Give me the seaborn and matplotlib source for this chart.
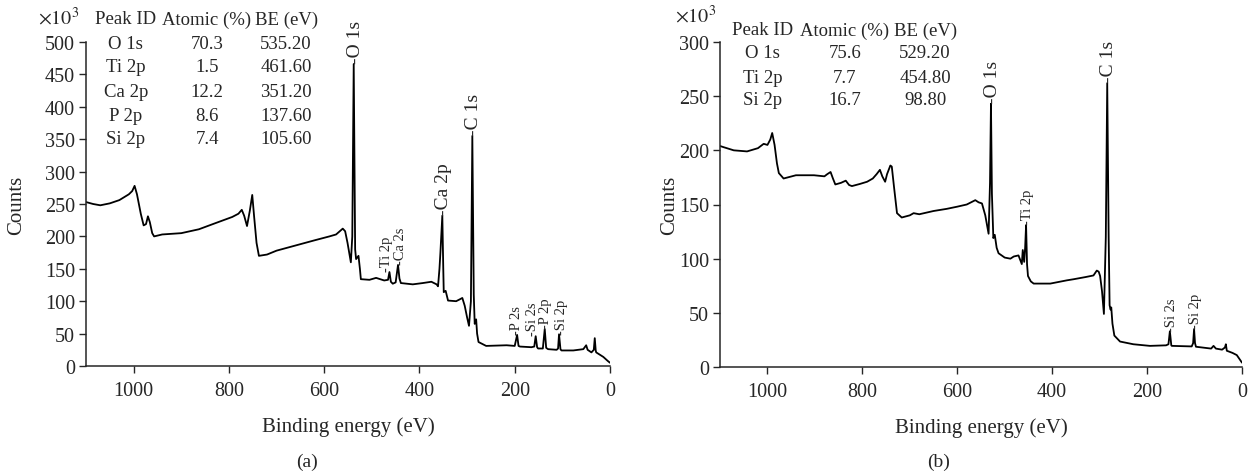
import matplotlib
matplotlib.use("Agg")
import matplotlib.pyplot as plt
import seaborn as sns

# --- survey spectrum (a): binding energy (eV) and counts (x10^3) ---
be_a = [1100, 1085, 1070, 1050, 1030, 1010, 1003, 998, 993, 985, 979, 974, 970, 966, 961, 957,
        940, 900, 863, 830, 793, 780, 773, 768, 762, 756, 751, 747, 742, 737, 720, 700, 660,
        620, 589, 575, 561, 556, 551, 544, 541, 538, 535, 533, 528, 525, 523, 505, 491, 474,
        466, 463, 460, 456, 450, 445, 442, 439, 414, 393, 375, 364, 361, 358, 356, 352, 350,
        349, 345, 340, 323, 315, 310, 305, 300, 296, 292, 289, 286, 284, 281, 279, 276, 260,
        217, 200, 195, 192, 189, 165, 159, 156, 153, 151, 141, 137, 134, 130, 112, 109, 107,
        104, 102, 77, 56, 50, 47, 39, 34, 32, 30, 29, 14, 5, 0]
cnt_a = [253, 250, 248, 251, 256, 265, 270, 278, 265, 235, 217, 219, 231, 222, 205, 200,
         203, 205, 211, 220, 230, 235, 241, 232, 216, 240, 264, 230, 190, 170, 172, 178, 186,
         194, 200, 203, 212, 208, 190, 160, 200, 466, 180, 165, 170, 150, 134, 133, 136, 132,
         133, 145, 130, 127, 129, 156, 135, 128, 126, 128, 130, 126, 123, 150, 175, 232, 150,
         114, 116, 101, 100, 103, 105, 93, 75, 62, 100, 355, 110, 65, 72, 50, 37, 31,
         32, 31, 48, 31, 30, 29, 30, 46, 29, 27, 27, 57, 28, 26, 25, 27, 49,
         26, 24, 24, 26, 32, 25, 21, 25, 43, 24, 21, 14, 8, 5]

# --- survey spectrum (b) ---
be_b = [1100, 1093, 1071, 1043, 1020, 1008, 1000, 994, 990, 985, 980, 976, 966, 940, 902,
        880, 874, 867, 862, 857, 845, 835, 828, 822, 805, 790, 778, 770, 763, 758, 752, 748,
        741, 738, 733, 727, 717, 700, 692, 680, 650, 622, 600, 580, 562, 555, 548, 541, 534,
        531, 529, 527, 524, 521, 517, 513, 500, 488, 481, 471, 464, 462, 459, 457, 455, 453,
        451, 445, 439, 404, 369, 355, 330, 313, 306, 302, 299, 295, 291, 287, 284, 281, 279,
        277, 275.5, 273, 269, 257, 229, 194, 160, 155, 152, 149, 148, 106, 103, 101, 99, 97,
        65, 60, 55, 42, 36, 34, 32, 20, 11, 0]
cnt_b = [204, 203, 200, 199, 202, 206, 205, 210, 216, 205, 188, 179, 174, 177, 177,
         176, 178, 180, 174, 168.5, 170, 172, 168, 167, 169, 171, 174, 178, 182, 176, 171, 178,
         186, 185, 165, 142, 138, 140, 142, 141, 144, 146, 148, 150, 154, 152, 151, 140, 123,
         170, 243, 160, 119, 122, 110, 105, 101, 100, 102, 103, 95, 108, 97, 110, 131, 95,
         84, 79, 77, 77, 80, 81, 83, 84.5, 89, 88, 84, 70, 49, 120, 262, 120, 57,
         53, 55, 40, 29, 23.5, 21, 19.5, 20, 21, 33, 20, 19.5, 19, 22, 35, 22, 18.7,
         17, 19.5, 17, 16, 18, 21, 15, 13, 11, 4]

# --- quantification tables ---
ids_a = ["O 1s", "Ti 2p", "Ca 2p", "P 2p", "Si 2p"]
atomic_a = ["70.3", "1.5", "12.2", "8.6", "7.4"]
bes_a = ["535.20", "461.60", "351.20", "137.60", "105.60"]

ids_b = ["O 1s", "Ti 2p", "Si 2p"]
atomic_b = ["75.6", "7.7", "16.7"]
bes_b = ["529.20", "454.80", "98.80"]

# --- peak labels: name, energy, counts at peak top, main peak? ---
peaks_a = [("O 1s", 538, 466, True), ("C 1s", 289, 355, True), ("Ca 2p", 352, 232, True),
           ("Ti 2p", 463, 145, False), ("Ca 2s", 445, 156, False), ("P 2s", 195, 48, False),
           ("Si 2s", 156, 46, False), ("P 2p", 137, 57, False), ("Si 2p", 107, 49, False)]
peaks_b = [("O 1s", 529, 243, True), ("C 1s", 284, 262, True), ("Ti 2p", 455, 131, False),
           ("Si 2s", 152, 33, False), ("Si 2p", 101, 35, False)]

# horizontal nudges (points) for crowded labels
nudge_a = {"Ti 2p": -3.0, "Ca 2s": 1.0, "P 2s": -1.5, "Si 2s": -3.5, "P 2p": -0.5, "Si 2p": 0.5}
nudge_b = {}

sns.set_style("ticks")
plt.rcParams["font.family"] = ["Liberation Serif", "DejaVu Serif"]
plt.rcParams["mathtext.fontset"] = "stix"

W, H = 1251, 477
fig = plt.figure(figsize=(W / 100, H / 100), dpi=100)
ax_a = fig.add_axes([86 / W, 1 - 367 / H, 524 / W, 324 / H])
ax_b = fig.add_axes([720 / W, 1 - 368 / H, 522 / W, 325 / H])


def draw_panel(ax, be, cnt, ymax, peaks, ids, atomic, bes, col_x, row_y, ylab_x, nudges):
    sns.lineplot(x=be, y=cnt, ax=ax, color="black", lw=1.3, estimator=None, sort=False)
    ax.set_xlim(1100, 0)
    ax.set_ylim(0, ymax)
    ax.set_xticks([1000, 800, 600, 400, 200, 0])
    ax.set_yticks(range(0, ymax + 1, 50))
    ax.tick_params(direction="out", length=5, width=1, labelsize=14.5)
    ax.tick_params(axis="x", pad=6)
    ax.tick_params(axis="y", pad=3)
    for s in ["left", "bottom"]:
        ax.spines[s].set_linewidth(1.1)
    sns.despine(ax=ax)
    ax.set_xlabel("Binding energy (eV)", fontsize=15)
    ax.set_ylabel("Counts", fontsize=15)
    ax.xaxis.set_label_coords(0.5, -0.155)
    ax.yaxis.set_label_coords(ylab_x, 0.5)

    for name, e, c, big in peaks:
        dx = 1.0 + nudges.get(name, 0.0)
        ax.annotate("-" + name, xy=(e, c), xytext=(dx, 0.5), textcoords="offset points",
                    rotation=90, ha="center", va="bottom", fontsize=14 if big else 10.5)

    header = ["Peak ID", "Atomic (%)", "BE (eV)"]
    for j, h in enumerate(header):
        ax.text(col_x[j], row_y[0], h, transform=ax.transAxes, ha="center", va="center",
                fontsize=13.5, clip_on=False)
    for i in range(len(ids)):
        for j, v in enumerate([ids[i], atomic[i], bes[i]]):
            ax.text(col_x[j], row_y[i + 1], v, transform=ax.transAxes, ha="center",
                    va="center", fontsize=13.5, clip_on=False)


draw_panel(ax_a, be_a, cnt_a, 500, peaks_a, ids_a, atomic_a, bes_a,
           [0.076, 0.231, 0.382], [1.071, 0.994, 0.923, 0.846, 0.772, 0.701], -0.115, nudge_a)
draw_panel(ax_b, be_b, cnt_b, 300, peaks_b, ids_b, atomic_b, bes_b,
           [0.082, 0.239, 0.393], [1.037, 0.969, 0.892, 0.822], -0.079, nudge_b)

fig.text(38 / W, 1 - 25 / H, r"$\times10^3$", fontsize=14.5, ha="left", va="baseline")
fig.text(675 / W, 1 - 23 / H, r"$\times10^3$", fontsize=14.5, ha="left", va="baseline")
fig.text(307 / W, 1 - 462 / H, "(a)", fontsize=14, ha="center", va="center")
fig.text(939 / W, 1 - 462 / H, "(b)", fontsize=14, ha="center", va="center")

fig.savefig("out.png", dpi=100)
